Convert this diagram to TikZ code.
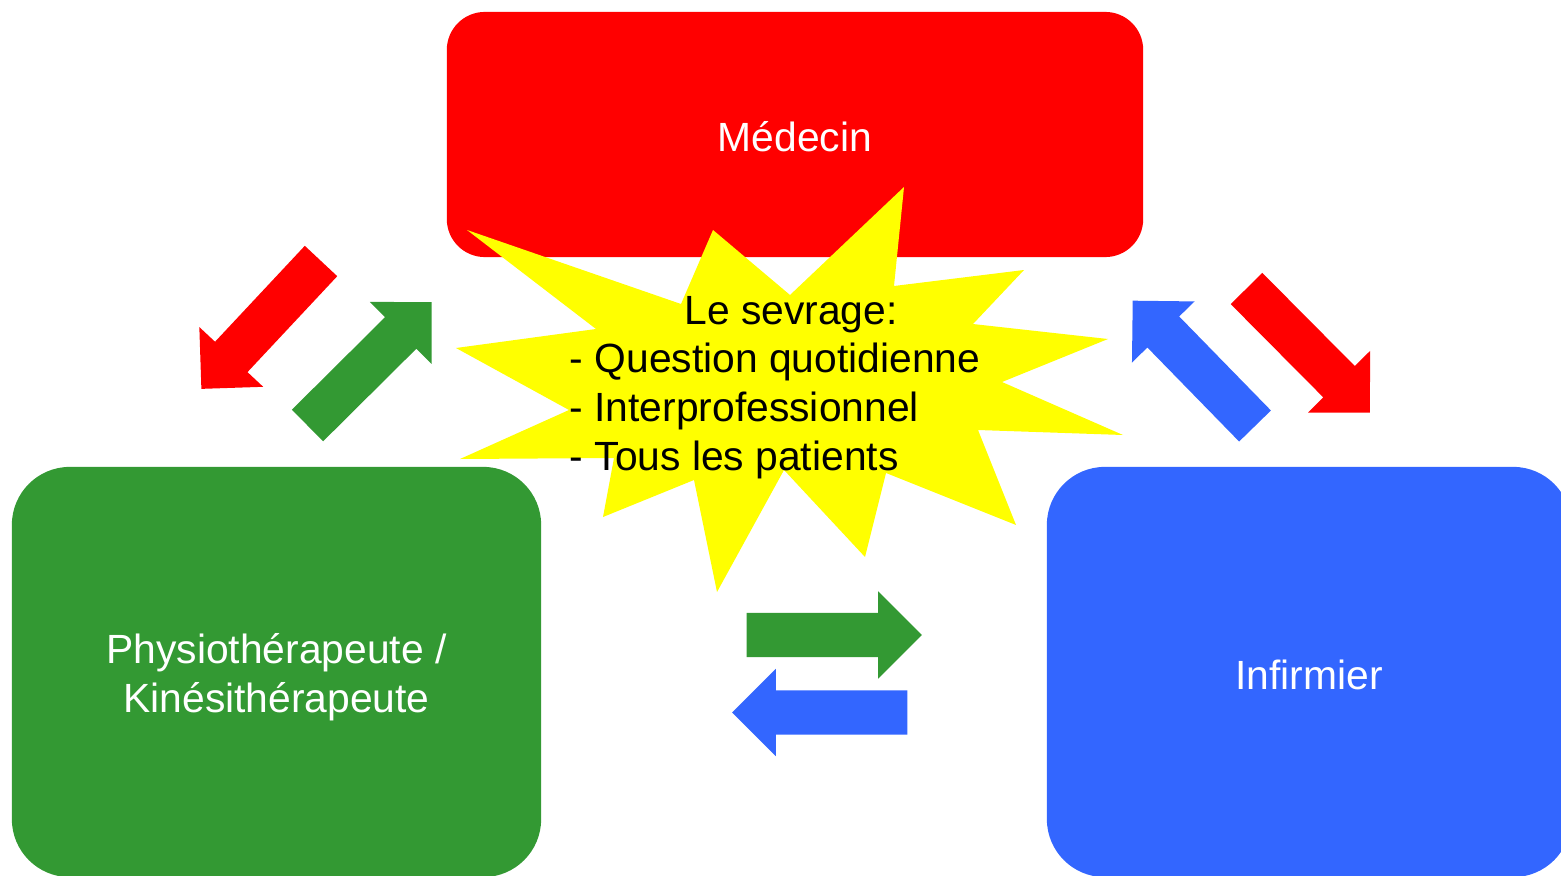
\documentclass[tikz,border=0pt]{standalone}
\usepackage{fontspec}
\setmainfont{Liberation Sans}
\usepackage{xcolor}
\usetikzlibrary{shapes.arrows}
\definecolor{medred}{RGB}{255,0,0}
\definecolor{physgreen}{RGB}{51,153,51}
\definecolor{infblue}{RGB}{51,102,255}
\definecolor{staryellow}{RGB}{255,255,0}

\begin{document}
\begin{tikzpicture}[x=0.01cm,y=-0.01cm,
    role/.style={rectangle,rounded corners=0.58cm,draw=none,text=white,
                 font=\fontsize{11.6}{13.9}\selectfont,align=center,inner sep=0pt},
    flow/.style={single arrow,draw=none,inner xsep=0pt,inner ysep=0.215cm,minimum height=1.75cm,
                 minimum width=0.86cm,single arrow head extend=0.215cm,anchor=tail},
    txt/.style={font=\fontsize{11.6}{13.9}\selectfont,inner sep=0pt}
  ]
  \useasboundingbox (0,0) rectangle (1561,876);
  \clip (0,0) rectangle (1561,876);

  % the three professions
  \node[role,fill=medred,rounded corners=0.38cm,minimum width=6.96cm,minimum height=2.45cm] (med) at (795,134.5) {\rule{0pt}{0.86em}Médecin};
  \node[role,fill=physgreen,minimum width=5.29cm,minimum height=4.10cm] (phys) at (276.5,672) {\rule{0pt}{1.0em}Physiothérapeute /\\Kinésithérapeute};
  \node[role,fill=infblue,minimum width=5.24cm,minimum height=4.10cm] (inf) at (1309,672) {\rule{0pt}{0.87em}Infirmier};

  % burst in the middle
  \fill[staryellow] (467,230) -- (681,304) -- (713,230) -- (790,295) -- (904,187) -- (894,286)
    -- (1024,270) -- (973,324) -- (1108,339) -- (1002,382) -- (1123,435) -- (978,430)
    -- (1016,525) -- (886,473) -- (865,557) -- (784,470) -- (717,592) -- (694,480)
    -- (603,517) -- (614,458) -- (460,459) -- (569,410) -- (456,348) -- (596,329) -- cycle;
  \node[txt] (title) at (791,315) {Le sevrage:};
  \node[txt,align=left,anchor=west] (points) at (569,411) {- Question quotidienne\\- Interprofessionnel\\- Tous les patients};

  % exchanges
  \node[flow,fill=medred,rotate=226.9] (medtophys) at (321.5,260.5) {};
  \node[flow,fill=physgreen,rotate=44.8] (phystomed) at (307,426) {};
  \node[flow,fill=infblue,rotate=134.3] (inftomed) at (1255.5,426.5) {};
  \node[flow,fill=medred,rotate=-45.2] (medtoinf) at (1246,288) {};
  \node[flow,fill=physgreen] (phystoinf) at (746,635) {};
  \node[flow,fill=infblue,rotate=180] (inftophys) at (908,712.5) {};
\end{tikzpicture}
\end{document}
